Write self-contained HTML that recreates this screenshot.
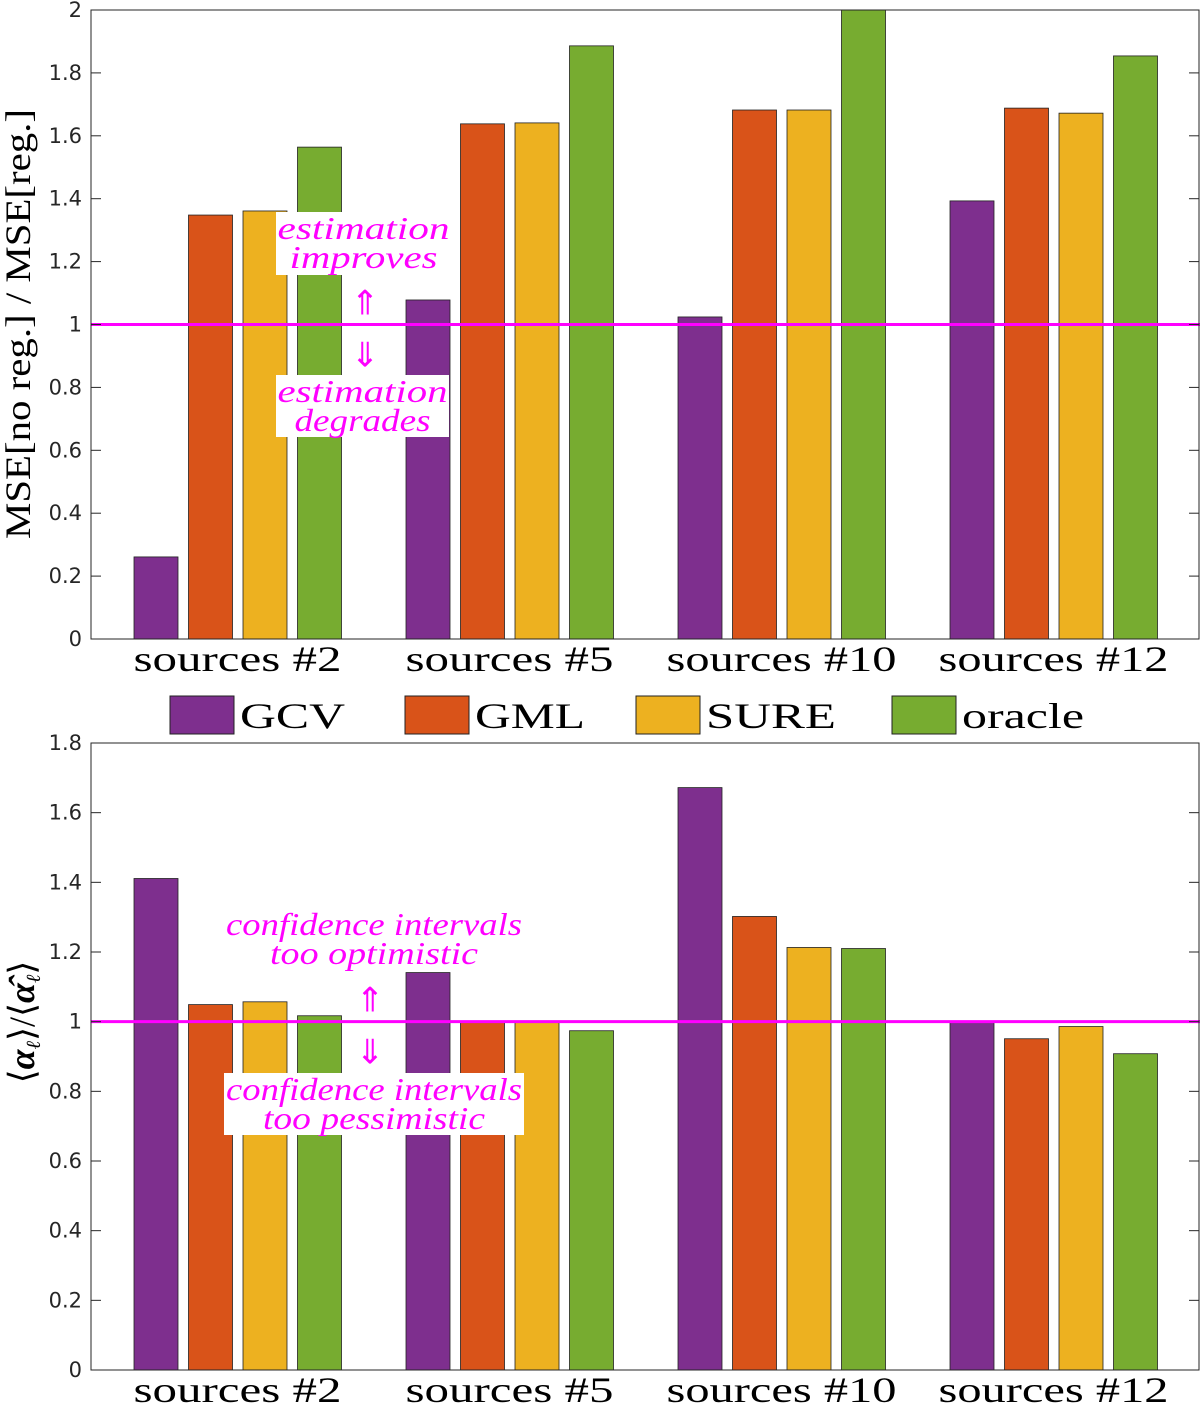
<!DOCTYPE html>
<html><head><meta charset="utf-8"><style>
html,body{margin:0;padding:0;background:#fff;width:1200px;height:1412px;overflow:hidden}
svg{display:block}
.tick{font-family:"DejaVu Sans","Liberation Sans",sans-serif;font-size:21px;fill:#262626}
.xl{font-family:"Liberation Serif",serif;font-size:36px;fill:#000}
.ann{font-family:"Liberation Serif",serif;font-style:italic;font-size:32px;fill:#ff00ff}
.arr{font-family:"DejaVu Sans",sans-serif;font-size:34px;fill:#ff00ff}
</style></head><body>
<svg id="chart" width="1200" height="1412" xmlns="http://www.w3.org/2000/svg"></svg>
<script>
const categories = ["sources #2","sources #5","sources #10","sources #12"];
const seriesNames = ["GCV","GML","SURE","oracle"];
const topGCV = [0.261,1.078,1.024,1.393];
const topGML = [1.348,1.638,1.682,1.688];
const topSURE = [1.361,1.641,1.682,1.672];
const topOracle = [1.564,1.886,2.0,1.854];
const botGCV = [1.411,1.141,1.672,1.0];
const botGML = [1.049,1.0,1.302,0.951];
const botSURE = [1.057,1.0,1.213,0.986];
const botOracle = [1.017,0.974,1.210,0.908];
const topTicks = [0,0.2,0.4,0.6,0.8,1,1.2,1.4,1.6,1.8,2];
const botTicks = [0,0.2,0.4,0.6,0.8,1,1.2,1.4,1.6,1.8];
const colors = ["#7E2F8E","#D95319","#EDB120","#77AC30"];
const NS="http://www.w3.org/2000/svg";
const svg=document.getElementById('chart');
function mk(tag,attrs,parent){const e=document.createElementNS(NS,tag);for(const k in attrs)e.setAttribute(k,attrs[k]);(parent||svg).appendChild(e);return e;}
function xCenter(i){return 237.5+272*i;}
function barX(i,s){return xCenter(i)-103.5+54.5*s;}
const catWidths=[208,208,230,230];
function drawPanel(cfg){
  const g=mk('g',{});
  
  
  const y=v=>cfg.y0-(v/cfg.ymax)*(cfg.y0-cfg.y1);
  cfg.series.forEach((arr,s)=>{
    arr.forEach((v,i)=>{
      const r=mk('rect',{x:barX(i,s),y:y(v),width:44,height:cfg.y0-y(v),fill:colors[s],stroke:'#222','stroke-width':0.8},g);
      
      
    });
  });
  cfg.ann.forEach(a=>{
    const bg=mk('rect',{x:a.x,y:a.y,width:a.w,height:a.h,fill:'#fff'},g);
    
    
    a.lines.forEach((t,k)=>{
      const tx=mk('text',{x:a.x+a.w/2,y:a.y+27+k*29,'text-anchor':'middle',class:'ann',textLength:a.tl[k],lengthAdjust:'spacingAndGlyphs'},g);
      tx.textContent=t;
      
      
    });
  });
  const ar1=mk('text',{x:cfg.arrowX,y:y(1)-10,'text-anchor':'middle',class:'arr'},g);
  ar1.textContent='⇑';
  const ar2=mk('text',{x:cfg.arrowX,y:y(1)+42,'text-anchor':'middle',class:'arr'},g);
  ar2.textContent='⇓';
  const rl=mk('line',{x1:91,x2:1200,y1:y(1),y2:y(1),stroke:'#ff00ff','stroke-width':3},g);
  
  
  const box=mk('rect',{x:91,y:cfg.y1,width:1108,height:cfg.y0-cfg.y1,fill:'none',stroke:'#262626','stroke-width':1},g);
  
  
  cfg.ticks.forEach(t=>{
    const ty=y(t);
    mk('line',{x1:91,x2:101,y1:ty,y2:ty,stroke:'#262626'},g);
    mk('line',{x1:1189,x2:1199,y1:ty,y2:ty,stroke:'#262626'},g);
    const tl=mk('text',{x:82,y:ty+7,'text-anchor':'end',class:'tick'},g);
    tl.textContent=String(t);
    if(t===1)tl.setAttribute('fill','#ff00ff');
    
    
  });
  categories.forEach((c,i)=>{
    const xl=mk('text',{x:xCenter(i),y:cfg.y0+32,'text-anchor':'middle',class:'xl',textLength:catWidths[i],lengthAdjust:'spacingAndGlyphs'},g);
    xl.textContent=c;
    
    
  });
}
drawPanel({name:'top-panel',y0:639,y1:10,ymax:2,ticks:topTicks,series:[topGCV,topGML,topSURE,topOracle],arrowX:365,
  ann:[{x:276,y:212,w:175,h:63,lines:['estimation','improves'],tl:[172,148]},{x:276,y:375,w:173,h:62,lines:['estimation','degrades'],tl:[170,136]}]});
drawPanel({name:'bottom-panel',y0:1370,y1:743,ymax:1.8,ticks:botTicks,series:[botGCV,botGML,botSURE,botOracle],arrowX:370,
  ann:[{x:224,y:908,w:300,h:62,lines:['confidence intervals','too optimistic'],tl:[296,208]},{x:224,y:1073,w:300,h:62,lines:['confidence intervals','too pessimistic'],tl:[296,222]}]});
const legX=[170,405,636,892];
const legW=[105,110,130,122];
seriesNames.forEach((n,s)=>{
  const r=mk('rect',{x:legX[s],y:696,width:64,height:38,fill:colors[s],stroke:'#222','stroke-width':1});
  
  
  const t=mk('text',{x:legX[s]+70,y:728,class:'xl','font-size':'42',textLength:legW[s],lengthAdjust:'spacingAndGlyphs'});
  t.textContent=n;
  
  
});
const yl1=mk('text',{x:0,y:0,transform:'translate(30,324) rotate(-90)','text-anchor':'middle',class:'xl','font-size':'32',textLength:430,lengthAdjust:'spacingAndGlyphs'});
yl1.textContent='MSE[no reg.]  / MSE[reg.]';


const yl2=mk('text',{x:0,y:0,transform:'translate(34,1022) rotate(-90)','text-anchor':'middle',class:'xl','font-size':'34'});
yl2.innerHTML='⟨<tspan font-weight="bold" font-style="italic">α</tspan><tspan font-style="italic" font-size="20" dy="6">ℓ</tspan><tspan dy="-6">⟩/⟨</tspan><tspan font-weight="bold" font-style="italic">α̂</tspan><tspan font-style="italic" font-size="20" dy="6">ℓ</tspan><tspan dy="-6">⟩</tspan>';


</script>
</body></html>
